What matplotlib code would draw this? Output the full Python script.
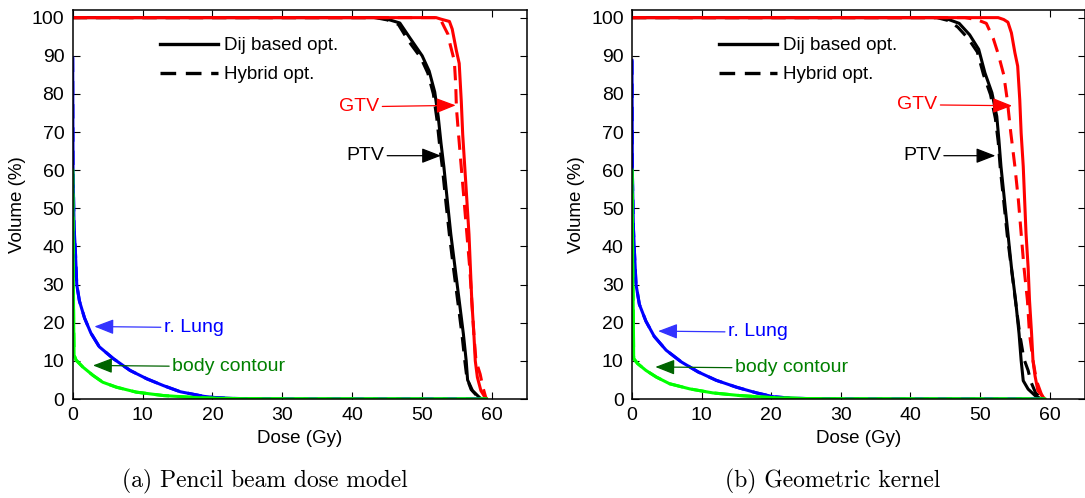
import matplotlib
matplotlib.use("Agg")
import matplotlib.pyplot as plt
from matplotlib.lines import Line2D

plt.rcParams['font.family'] = ['Liberation Sans', 'DejaVu Sans']

# ---------------- data: panel (a) Pencil beam dose model ----------------
a_ptv_dij_x = [0, 43.5, 45, 46.8, 48.2, 50, 51, 51.8, 52.3, 52.7, 53.1, 53.6, 54.1, 54.7, 55.3, 55.9, 56.3, 56.5, 57.2, 58.2, 58.5]
a_ptv_dij_y = [100, 100, 99.6, 98.6, 94.8, 90, 86, 80.5, 74, 67, 61, 52, 43.2, 34.5, 25.8, 17, 10, 5, 2.2, 0.4, 0]
a_ptv_hyb_x = [0, 43.3, 45, 46.6, 48, 49.8, 50.8, 51.6, 52.1, 52.5, 52.9, 53.4, 53.9, 54.5, 55.1, 55.7, 56.1, 56.4, 57.0, 58.0, 58.4]
a_ptv_hyb_y = [100, 100, 99.4, 98.2, 94, 89.5, 85.5, 80, 73.5, 66.5, 60.5, 51.5, 43, 34, 25.5, 16.8, 10, 5.5, 2.5, 0.5, 0]
a_gtv_dij_x = [0, 52, 52.7, 53.9, 54.3, 54.9, 55.3, 55.6, 55.8, 56.1, 56.4, 56.7, 56.9, 57.1, 57.4, 57.6, 57.9, 58.4, 59.0, 59.2]
a_gtv_dij_y = [100, 100, 99.6, 99, 97, 91.3, 88, 78, 69.4, 60.7, 52, 43.2, 34.5, 25.8, 17, 10, 5.7, 2.2, 0.4, 0]
a_gtv_hyb_x = [0, 52.5, 53.2, 53.7, 54.0, 54.6, 54.8, 54.9, 55.2, 55.6, 56.0, 56.4, 56.8, 57.1, 57.4, 57.7, 58.3, 58.7, 59.1, 59.3]
a_gtv_hyb_y = [100, 100, 97.4, 95.6, 93, 88.7, 82.5, 76.4, 69.5, 60.7, 52, 43.2, 34.5, 25.8, 17, 10, 6.5, 3, 0.4, 0]
a_lung_x = [0, 0.05, 0.2, 0.38, 0.58, 0.96, 1.7, 2.6, 3.8, 5.8, 8.2, 10.6, 13, 15.4, 18.75, 20.2, 23, 27, 30, 59]
a_lung_y = [89.5, 60, 45, 39, 30, 25.7, 21.2, 17.3, 13.7, 10.6, 7.5, 5.3, 3.5, 1.9, 0.7, 0.4, 0.15, 0.03, 0, 0]
a_body_x = [0, 0.08, 0.14, 0.2, 0.48, 1.44, 2.9, 4.3, 6.25, 9.1, 13, 17.8, 20.2, 25, 30, 59.2]
a_body_y = [60, 35, 20, 11.5, 10.2, 8.4, 6.2, 4.4, 3.1, 1.8, 0.9, 0.35, 0.2, 0.08, 0.03, 0]

# ---------------- data: panel (b) Geometric kernel ----------------
b_ptv_dij_x = [0, 44, 45.5, 47, 48.5, 49.8, 50.7, 51.7, 52.4, 52.7, 53.0, 53.5, 54.0, 54.5, 55.1, 55.6, 55.9, 56.2, 56.9, 57.9, 58.6, 59]
b_ptv_dij_y = [100, 100, 99.5, 98.5, 95.5, 91.7, 85.5, 80.3, 74.1, 68, 61, 52.2, 43.4, 34.6, 25.9, 17.1, 10.1, 4.8, 2.6, 0.9, 0.2, 0]
b_ptv_hyb_x = [0, 43.8, 45.5, 46.8, 48.3, 49.6, 50.5, 51.5, 52.2, 52.6, 52.9, 53.4, 53.9, 54.5, 55.1, 55.7, 56.3, 56.9, 57.3, 58, 59]
b_ptv_hyb_y = [100, 100, 99.2, 97.5, 94.5, 91, 85, 79.8, 73.5, 67.5, 60.5, 51.8, 43, 34.2, 25.5, 17, 10.5, 7.5, 4.5, 1.5, 0]
b_gtv_dij_x = [0, 52.6, 53.4, 54.0, 54.5, 55.0, 55.4, 55.7, 55.9, 56.2, 56.4, 56.6, 56.9, 57.1, 57.4, 57.6, 57.9, 58.3, 59.3]
b_gtv_dij_y = [100, 100, 99.5, 98.8, 96, 90.8, 87.3, 78.5, 69.7, 61, 52.2, 43.4, 34.6, 25.9, 17.1, 10.1, 6, 2.2, 0]
b_gtv_hyb_x = [0, 47.8, 49.5, 50.9, 51.9, 52.6, 53.4, 53.9, 54.4, 55.0, 55.5, 55.9, 56.3, 56.8, 57.1, 57.6, 58.1, 58.8, 59.2]
b_gtv_hyb_y = [100, 100, 99.5, 98.5, 94.5, 90.5, 85, 78.5, 70, 61, 52.2, 43.4, 34.6, 25.9, 17.1, 10.1, 4.8, 1.3, 0]
b_lung_x = [0, 0.05, 0.2, 0.34, 0.58, 1.06, 2.0, 3.2, 4.9, 7.1, 9.5, 12.1, 15, 17.9, 20.3, 23, 27, 30, 59]
b_lung_y = [88.8, 60, 45, 39, 30, 24.8, 20.4, 16.4, 12.8, 9.7, 7.1, 4.9, 3.1, 1.6, 0.6, 0.2, 0.05, 0, 0]
b_body_x = [0, 0.1, 0.2, 0.24, 0.8, 2, 3.5, 5.4, 8.3, 11.6, 15.5, 20.2, 25, 30, 59.3]
b_body_y = [60, 35, 20, 10.6, 9.3, 7.5, 5.75, 4, 2.65, 1.6, 0.9, 0.35, 0.12, 0.03, 0]

x_ticks = [0, 10, 20, 30, 40, 50, 60]
y_ticks = [0, 10, 20, 30, 40, 50, 60, 70, 80, 90, 100]
legend_labels = ["Dij based opt.", "Hybrid opt."]
captions = ["(a) Pencil beam dose model", "(b) Geometric kernel"]

panels = [
    dict(ptv_dij=(a_ptv_dij_x, a_ptv_dij_y), ptv_hyb=(a_ptv_hyb_x, a_ptv_hyb_y),
         gtv_dij=(a_gtv_dij_x, a_gtv_dij_y), gtv_hyb=(a_gtv_hyb_x, a_gtv_hyb_y),
         lung=(a_lung_x, a_lung_y), body=(a_body_x, a_body_y),
         gtv_ann=((54.8, 77.0), (43.9, 76.7)), ptv_ann=((52.7, 63.8), (44.6, 63.8)),
         lung_ann=((3.1, 19.0), (13.0, 18.8)), body_ann=((2.9, 8.8), (14.2, 8.6))),
    dict(ptv_dij=(b_ptv_dij_x, b_ptv_dij_y), ptv_hyb=(b_ptv_hyb_x, b_ptv_hyb_y),
         gtv_dij=(b_gtv_dij_x, b_gtv_dij_y), gtv_hyb=(b_gtv_hyb_x, b_gtv_hyb_y),
         lung=(b_lung_x, b_lung_y), body=(b_body_x, b_body_y),
         gtv_ann=((54.6, 76.9), (43.9, 77.1)), ptv_ann=((52.2, 63.8), (44.4, 63.8)),
         lung_ann=((3.75, 17.8), (13.75, 17.6)), body_ann=((3.35, 8.4), (14.75, 8.2))),
]

W, H = 1085, 498
fig = plt.figure(figsize=(W / 100, H / 100), dpi=100)

axes_px = [(72.7, 527.0), (632.0, 1084.5)]
caption_cx = [265, 833]
y_bot, y_top = 399.0, 10.0
DASH = (4.7, 2.9)
FS = 14

for (xl, xr), p, cap, ccx in zip(axes_px, panels, captions, caption_cx):
    ax = fig.add_axes([xl / W, (H - y_bot) / H, (xr - xl) / W, (y_bot - y_top) / H])
    lw = 2.2
    ax.plot(*p['ptv_dij'], color='black', lw=lw)
    ax.plot(*p['ptv_hyb'], color='black', lw=lw, dashes=DASH)
    ax.plot(*p['gtv_dij'], color='red', lw=lw)
    ax.plot(*p['gtv_hyb'], color='red', lw=lw, dashes=DASH)
    ax.plot(*p['lung'], color='blue', lw=lw)
    ax.plot(*p['lung'], color='blue', lw=lw, dashes=DASH)
    ax.plot(*p['body'], color='#00ff00', lw=lw)
    ax.plot(*p['body'], color='#00ff00', lw=lw, dashes=DASH)

    ax.set_xlim(0, 65)
    ax.set_ylim(0, 102)
    ax.set_xticks(x_ticks)
    ax.set_yticks(y_ticks)
    ax.tick_params(direction='in', top=True, right=True, length=5, width=0.8,
                   labelsize=FS, pad=6)
    for s in ax.spines.values():
        s.set_linewidth(1.1)
    ax.set_xlabel("Dose (Gy)", fontsize=13.5, labelpad=4)
    ax.set_ylabel("Volume (%)", fontsize=13.5, labelpad=4)

    handles = [Line2D([], [], color='black', lw=2.4),
               Line2D([], [], color='black', lw=2.4, dashes=DASH)]
    ax.legend(handles, legend_labels, loc='upper left', bbox_to_anchor=(0.192, 0.93),
              frameon=False, fontsize=13.5, handlelength=3.1, handletextpad=0.3,
              labelspacing=0.62, borderpad=0, borderaxespad=0)

    def ann(text, tip, anchor, color, ha, arrow_color=None):
        ac = arrow_color or color
        ax.annotate(text, xy=tip, xytext=anchor, ha=ha, va='center', color=color,
                    fontsize=FS,
                    arrowprops=dict(arrowstyle='-|>,head_length=0.85,head_width=0.33',
                                    color=ac, lw=0.9, shrinkA=0, shrinkB=0,
                                    relpos=(1.0 if ha == 'right' else 0.0, 0.5)))

    ann("GTV", p['gtv_ann'][0], p['gtv_ann'][1], 'red', 'right')
    ann("PTV", p['ptv_ann'][0], p['ptv_ann'][1], 'black', 'right')
    ann("r. Lung", p['lung_ann'][0], p['lung_ann'][1], 'blue', 'left', '#3333ff')
    ann("body contour", p['body_ann'][0], p['body_ann'][1], '#008000', 'left', '#006400')

    fig.text(ccx / W, 1 - 481.5 / H, cap, ha='center', va='center',
             fontsize=17, family='cmr10')

fig.savefig("out.png", dpi=100)
